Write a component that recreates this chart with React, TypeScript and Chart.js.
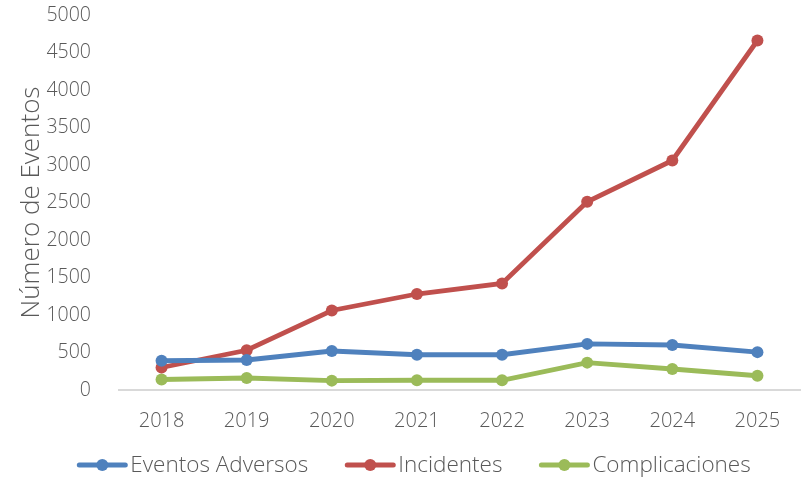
import React, { useEffect, useRef } from "react";
import { Chart, registerables } from "chart.js";

Chart.register(...registerables);

const years = ["2018", "2019", "2020", "2021", "2022", "2023", "2024", "2025"];
const eventosAdversos = [390, 400, 520, 470, 470, 615, 600, 505];
const incidentes = [300, 530, 1060, 1280, 1420, 2510, 3060, 4660];
const complicaciones = [140, 160, 125, 130, 130, 365, 280, 190];
const seriesLabels = ["Eventos Adversos", "Incidentes", "Complicaciones"];
const seriesColors = ["#4F81BD", "#C0504D", "#9BBB59"];
const yTitle = "Número de Eventos";

const FONT = "'Open Sans', sans-serif";
const TEXT = "#595959";

const legendPlugin = {
  id: "customLegend",
  afterDraw(chart: any) {
    const ctx = chart.ctx as CanvasRenderingContext2D;
    const ds = chart.data.datasets;
    ctx.save();
    ctx.font = `300 22.5px ${FONT}`;
    ctx.textBaseline = "middle";
    const y = 465;
    const lineW = 50;
    const gapText = 3;
    const gapItem = 37;
    const widths = ds.map((d: any) => ctx.measureText(d.label).width);
    const total =
      widths.reduce((a: number, w: number) => a + lineW + gapText + w, 0) +
      gapItem * (ds.length - 1);
    let x = 414 - total / 2;
    ds.forEach((d: any, i: number) => {
      const c = d.borderColor;
      ctx.strokeStyle = c;
      ctx.lineWidth = 5;
      ctx.lineCap = "round";
      ctx.beginPath();
      ctx.moveTo(x + 2, y);
      ctx.lineTo(x + lineW - 2, y);
      ctx.stroke();
      ctx.fillStyle = c;
      ctx.beginPath();
      ctx.arc(x + lineW / 2, y, 6, 0, Math.PI * 2);
      ctx.fill();
      ctx.fillStyle = TEXT;
      ctx.textAlign = "left";
      ctx.fillText(d.label, x + lineW + gapText, y + 1);
      x += lineW + gapText + widths[i] + gapItem;
    });
    ctx.restore();
  },
};

export default function App() {
  const ref = useRef<HTMLCanvasElement>(null);
  useEffect(() => {
    if (!ref.current) return;
    const data = [eventosAdversos, incidentes, complicaciones];
    const chart = new Chart(ref.current, {
      type: "line",
      data: {
        labels: years,
        datasets: data.map((vals, i) => ({
          label: seriesLabels[i],
          data: vals,
          borderColor: seriesColors[i],
          backgroundColor: seriesColors[i],
          pointBackgroundColor: seriesColors[i],
          pointBorderColor: seriesColors[i],
          borderWidth: 4.8,
          pointRadius: 6,
          pointBorderWidth: 0,
          tension: 0,
        })),
      },
      options: {
        responsive: false,
        animation: false,
        layout: { padding: { top: 0, left: 0, right: 0, bottom: 0 } },
        plugins: {
          legend: { display: false },
          tooltip: { enabled: false },
        },
        scales: {
          x: {
            offset: true,
            grid: { display: false },
            border: { display: true, color: "#D9D9D9", width: 2 },
            ticks: { color: TEXT, font: { family: FONT, size: 20, weight: "300" as any }, padding: 11 },
            afterFit: (s: any) => {
              s.height = 90;
            },
          },
          y: {
            min: 0,
            max: 5000,
            grid: { display: false },
            border: { display: false },
            ticks: {
              stepSize: 500,
              color: TEXT,
              font: { family: FONT, size: 19.5, weight: "300" as any },
              padding: 20,
              callback: (v: any) => String(v),
            },
            title: {
              display: true,
              text: yTitle,
              color: TEXT,
              font: { family: FONT, size: 26, weight: "300" as any },
              padding: { top: 16, bottom: 0 },
            },
            afterFit: (s: any) => {
              s.width = 119;
              s.paddingTop = 15;
              s.paddingBottom = 0;
            },
          },
        },
      },
      plugins: [legendPlugin],
    });
    return () => chart.destroy();
  }, []);
  return (
    <div style={{ position: "fixed", left: 0, top: 0, width: 806, height: 480, background: "#fff" }}>
      <canvas ref={ref} width={806} height={480} />
    </div>
  );
}
